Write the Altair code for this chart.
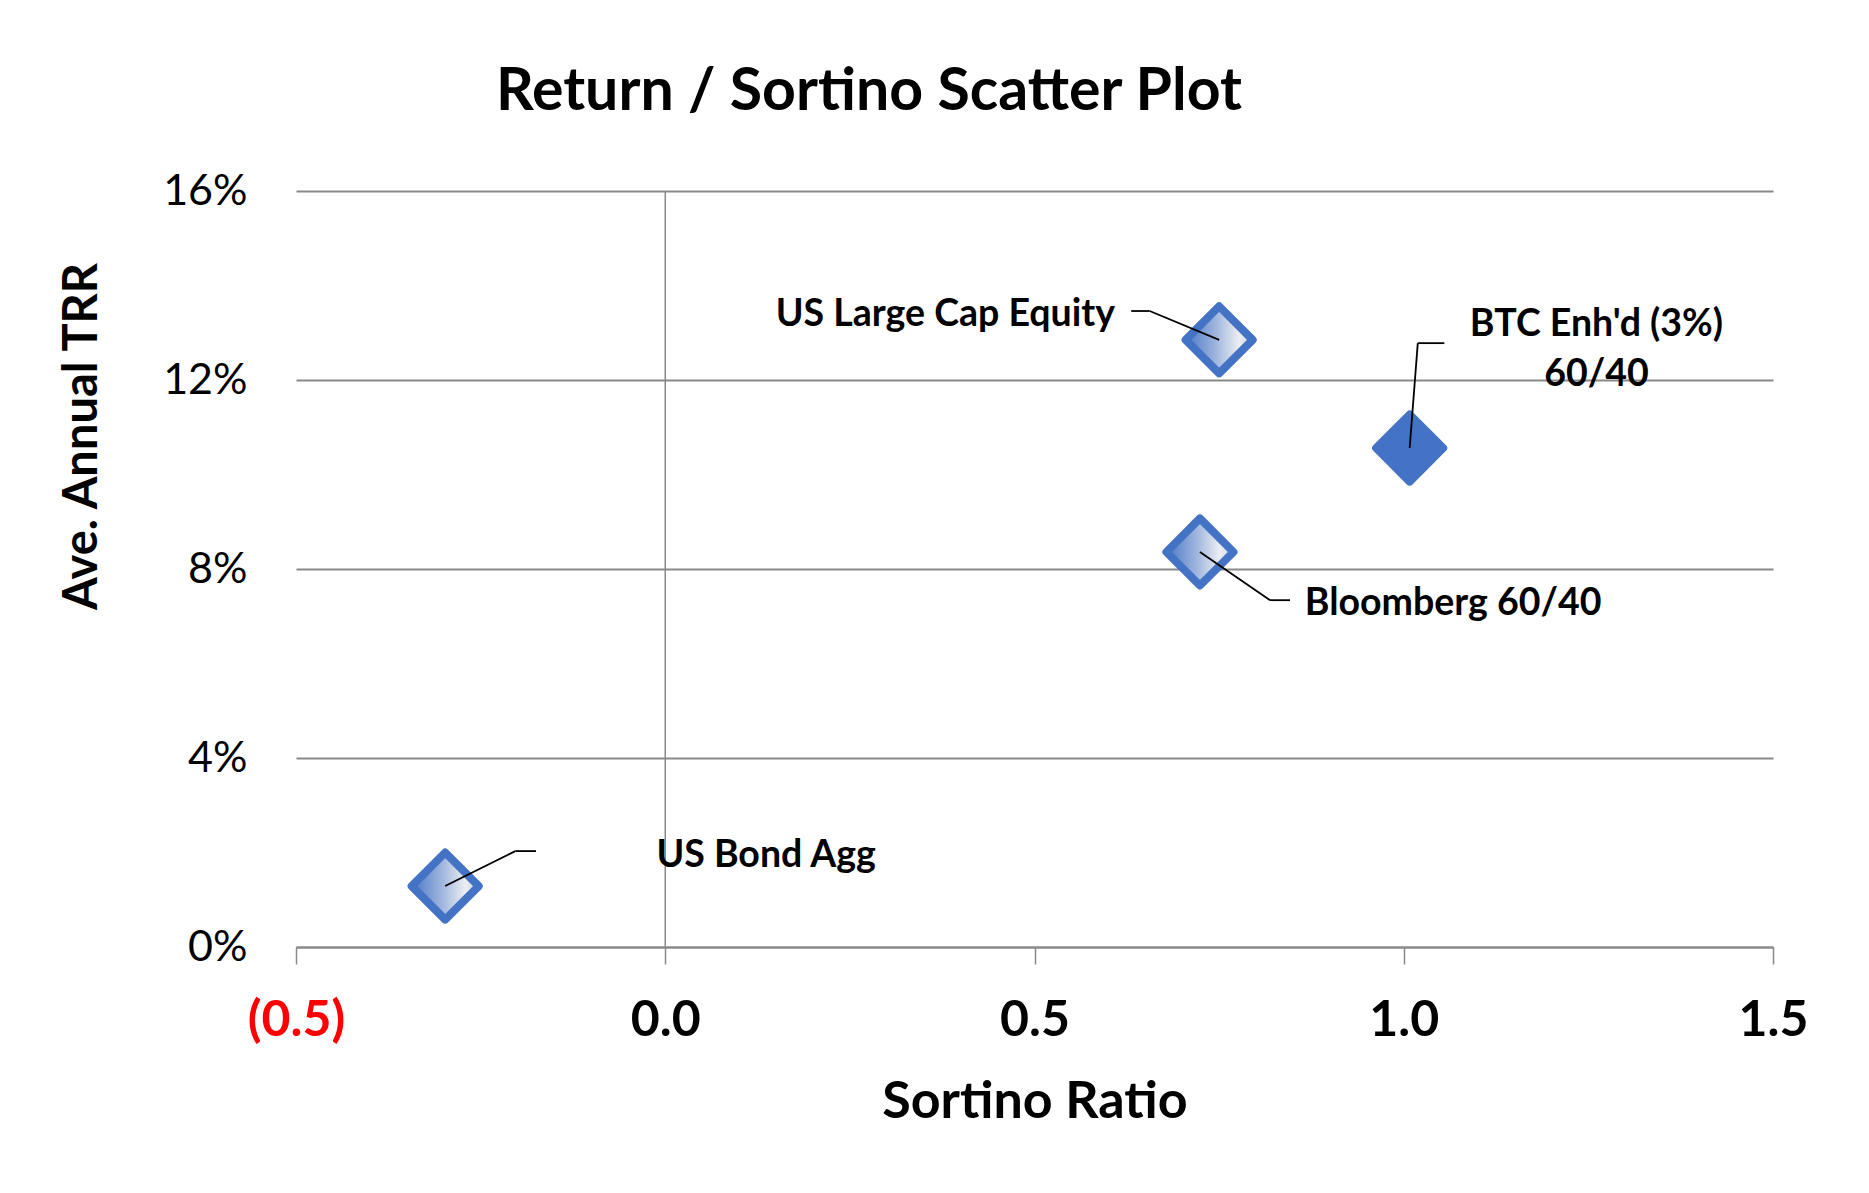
import altair as alt
import pandas as pd

# ---- data ----
names = ["US Large Cap Equity", "Bloomberg 60/40", "BTC Enh'd (3%) 60/40", "US Bond Agg"]
sortino = [0.750, 0.724, 1.008, -0.298]
returns = [0.1285, 0.0836, 0.1056, 0.0129]
solid = [False, False, True, False]

x_ticks = [-0.5, 0.0, 0.5, 1.0, 1.5]
y_ticks = [0.0, 0.04, 0.08, 0.12, 0.16]

# leader lines (point -> elbow -> end), data units
elbow_x = [0.656, 0.819, 1.019, -0.203]
elbow_y = [0.1346, 0.0734, 0.1278, 0.0203]
end_x = [0.631, 0.846, 1.055, -0.175]

# data-label anchors, data units
lab_text = ["US Large Cap Equity", "Bloomberg 60/40", "BTC Enh'd (3%)", "60/40", "US Bond Agg"]
lab_x = [0.609, 0.866, 1.261, 1.261, -0.012]
lab_y = [0.1344, 0.0734, 0.1323, 0.1217, 0.0201]
lab_align = ["right", "left", "center", "center", "left"]

GRID = "#898989"
BLUE = "#4472C4"
FONT = "Lato"

pts = pd.DataFrame({"name": names, "sortino": sortino, "ret": returns, "solid": solid})

seg_rows = []
for i in range(len(names)):
    seg_rows.append({"x": sortino[i], "y": returns[i], "x2": elbow_x[i], "y2": elbow_y[i]})
    seg_rows.append({"x": elbow_x[i], "y": elbow_y[i], "x2": end_x[i], "y2": elbow_y[i]})
segs = pd.DataFrame(seg_rows)

labs = pd.DataFrame({"text": lab_text, "x": lab_x, "y": lab_y, "align": lab_align})
zero_df = pd.DataFrame({"x": [0.0], "y": [y_ticks[0]], "y2": [y_ticks[-1]]})

xscale = alt.Scale(domain=[x_ticks[0], x_ticks[-1]], nice=False, zero=False)
yscale = alt.Scale(domain=[y_ticks[0], y_ticks[-1]], nice=False, zero=False)

x_axis = alt.Axis(
    values=x_ticks, title="Sortino Ratio", grid=False,
    domainColor=GRID, domainWidth=2, tickColor=GRID, tickSize=17, tickWidth=1.5,
    labelFont=FONT, labelFontSize=50, labelFontWeight="bold",
    labelExpr="datum.value < 0 ? '(' + format(-datum.value, '.1f') + ')' : format(datum.value, '.1f')",
    labelColor=alt.condition("datum.value < 0", alt.value("#FF0000"), alt.value("#000000")),
    labelBaseline="alphabetic", labelPadding=71, labelFlush=False, labelOverlap=False,
    titleFont=FONT, titleFontSize=52, titleFontWeight="bold", titleColor="#000000",
    titleBaseline="alphabetic", titleY=170,
)
y_axis = alt.Axis(
    values=y_ticks, format=".0%", grid=True, gridColor=GRID, gridWidth=2,
    domain=False, ticks=False, tickSize=0,
    labelFont=FONT, labelFontSize=43, labelColor="#000000", labelPadding=49,
    title="Ave. Annual TRR", titleFont=FONT, titleFontSize=47, titleFontWeight="bold",
    titleColor="#000000", titleX=-214, titleY=245, titleBaseline="middle", titleAngle=270,
)

base_x = alt.X("sortino:Q", scale=xscale, axis=x_axis)
base_y = alt.Y("ret:Q", scale=yscale, axis=y_axis)

zero_rule = alt.Chart(zero_df).mark_rule(color=GRID, strokeWidth=1.5).encode(
    x=alt.X("x:Q", scale=xscale), y=alt.Y("y:Q", scale=yscale), y2="y2:Q"
)

grad = alt.LinearGradient(
    gradient="linear", x1=0, x2=1, y1=0, y2=0,
    stops=[
        alt.GradientStop(offset=0.0, color="#4a77c6"),
        alt.GradientStop(offset=0.45, color="#9fb5de"),
        alt.GradientStop(offset=0.8, color="#eceef2"),
        alt.GradientStop(offset=1.0, color="#cbd3df"),
    ],
)

grad_pts = alt.Chart(pts).transform_filter("!datum.solid").mark_point(
    shape="diamond", filled=True, fill=grad, stroke=BLUE, strokeWidth=8,
    strokeJoin="round", size=4500, opacity=1, fillOpacity=1,
).encode(x=base_x, y=base_y)

solid_pts = alt.Chart(pts).transform_filter("datum.solid").mark_point(
    shape="diamond", filled=True, fill=BLUE, stroke=BLUE, strokeWidth=8,
    strokeJoin="round", size=4500, opacity=1, fillOpacity=1,
).encode(x=base_x, y=base_y)

leaders = alt.Chart(segs).mark_rule(color="#000000", strokeWidth=1.8).encode(
    x=alt.X("x:Q", scale=xscale), y=alt.Y("y:Q", scale=yscale), x2="x2:Q", y2="y2:Q"
)

text_layers = []
for al in ["left", "right", "center"]:
    text_layers.append(
        alt.Chart(labs).transform_filter(f"datum.align == '{al}'").mark_text(
            align=al, baseline="middle", font=FONT, fontSize=37.5, fontWeight="bold",
            color="#000000", dy=3.5,
        ).encode(x=alt.X("x:Q", scale=xscale), y=alt.Y("y:Q", scale=yscale), text="text:N")
    )

chart = alt.layer(zero_rule, grad_pts, solid_pts, leaders, *text_layers).properties(
    width=1477, height=756,
    padding={"left": 288, "top": 183, "right": 80, "bottom": 210},
    autosize=alt.AutoSizeParams(type="none"),
    background="white",
    title=alt.TitleParams(
        text="Return / Sortino Scatter Plot", font=FONT, fontSize=59, fontWeight="bold",
        color="#000000", anchor="start", frame="group", dx=200, offset=1, baseline="alphabetic",
    ),
).configure_view(stroke=None)

chart.save("out.html", embed_options={"renderer": "svg", "actions": False})
